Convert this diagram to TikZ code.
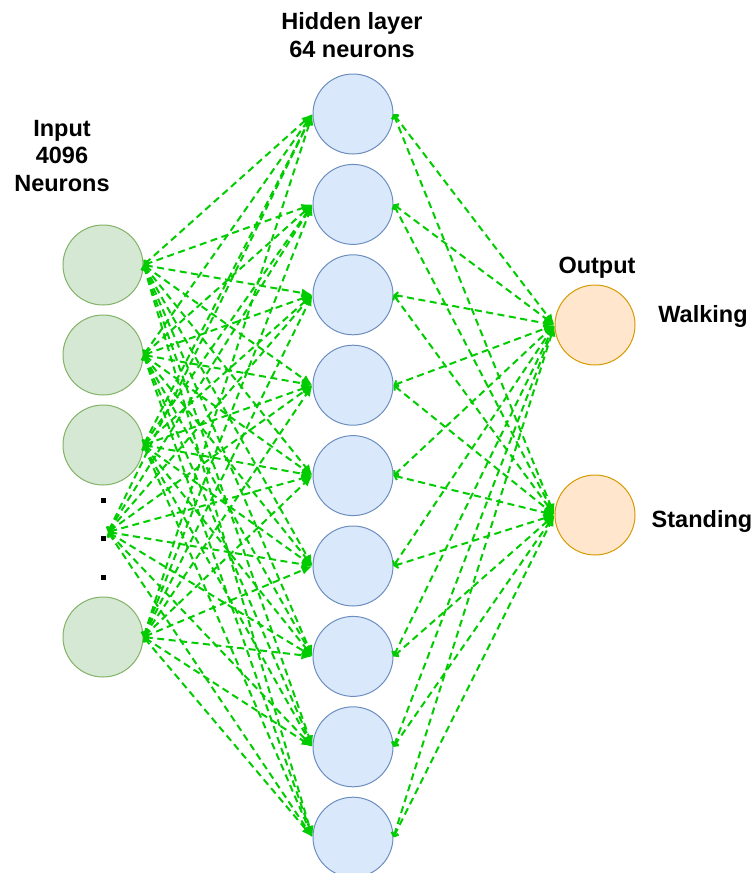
\documentclass[tikz,border=0pt]{standalone}
\usepackage{fontspec}
\setmainfont{Liberation Sans}
\usetikzlibrary{arrows.meta}

\definecolor{linkgreen}{HTML}{00CC00}
\definecolor{infill}{HTML}{D5E8D4}
\definecolor{inline}{HTML}{82B366}
\definecolor{hidfill}{HTML}{DAE8FC}
\definecolor{hidline}{HTML}{6C8EBF}
\definecolor{outfill}{HTML}{FFE6CC}
\definecolor{outline}{HTML}{D79B00}

\tikzset{
  neuron/.style={circle, minimum size=80pt, inner sep=0pt, line width=1pt},
  innode/.style={neuron, draw=inline, fill=infill},
  hidnode/.style={neuron, draw=hidline, fill=hidfill},
  outnode/.style={neuron, draw=outline, fill=outfill},
  dotmark/.style={fill=black, minimum size=5pt, inner sep=0pt},
  lbl/.style={font=\bfseries\fontsize{23.5}{27.5}\selectfont, align=center, inner sep=0pt, anchor=base},
  link/.style={linkgreen, line width=2pt, dash pattern=on 7pt off 4.5pt,
    {Straight Barb[length=3pt,width=7pt]}-{Latex[length=11pt,width=9pt]}}
}

\begin{document}
\begin{tikzpicture}[x=1pt,y=-1pt]
\useasboundingbox (0,0) rectangle (753,873);

% input layer
\foreach \n/\y in {1/265,2/355,3/445,4/637}
	\node[innode] (in\n) at (103,\y) {};
\foreach \n/\y in {1/500,2/538,3/577}
	\node[dotmark] (dot\n) at (103,\y) {};
\coordinate (dotsrc) at (108,532);

% hidden layer
\foreach \n in {1,...,9}
	\node[hidnode] (hid\n) at (353,{114+90.4*(\n-1)}) {};

% output layer
\node[outnode] (out1) at (595,325) {};
\node[outnode] (out2) at (595,515) {};

% titles (base = last line)
\node[lbl] (intitle) at (62,191) {Input\\4096\\Neurons};
\node[lbl] (hidtitle) at (352,57) {Hidden layer\\64 neurons};
\node[lbl] (outtitle) at (597,273) {Output};
\node[lbl] (walk) at (703,322) {Walking};
\node[lbl] (stand) at (702,527) {Standing};

% connections
\foreach \s in {1,2,3,4}
	\foreach \h in {1,...,9}
		\draw[link] (in\s.east) -- (hid\h.west);
\foreach \h in {1,...,9}
	\draw[link] (dotsrc) -- (hid\h.west);
\foreach \h in {1,...,9}
	\foreach \o in {1,2}
		\draw[link] (hid\h.east) -- (out\o.west);

\end{tikzpicture}
\end{document}
